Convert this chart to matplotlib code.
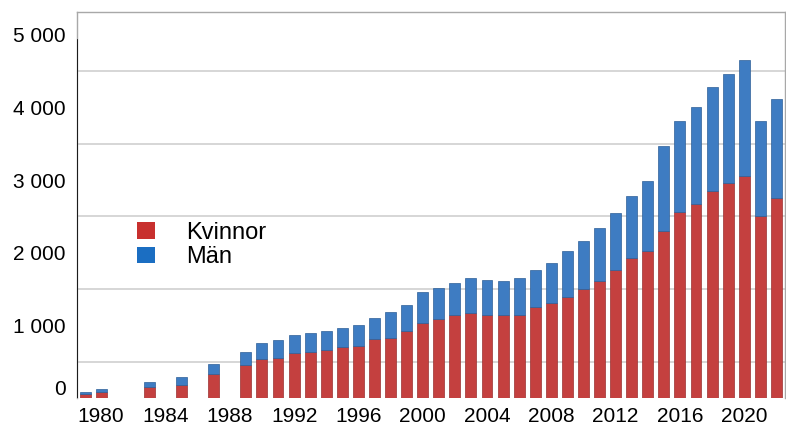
import numpy as np
import matplotlib
matplotlib.use("Agg")
import matplotlib.pyplot as plt
import matplotlib.transforms as mtransforms
from matplotlib.patches import Patch

plt.rcParams['font.family'] = ['Liberation Sans', 'DejaVu Sans']

# Data
years = [1979, 1980, 1983, 1985, 1987] + list(range(1989, 2023))
kvinnor = [55, 90, 160, 185, 330,
           460, 545, 560, 630, 645, 665, 705, 720, 815, 830, 930,
           1035, 1090, 1140, 1180, 1140, 1140, 1140, 1250, 1310, 1400,
           1505, 1615, 1765, 1925, 2030, 2300, 2555, 2670, 2850, 2955,
           3055, 2510, 2760]
man = [30, 40, 70, 105, 140,
       175, 222, 245, 238, 260, 267, 268, 290, 295, 355, 355,
       428, 425, 452, 480, 488, 480, 520, 518, 556, 630,
       660, 723, 780, 857, 955, 1168, 1250, 1338, 1433, 1503,
       1595, 1295, 1350]
tick_years = list(range(1980, 2021, 4))
y_ticks = [0, 1000, 2000, 3000, 4000, 5000]
y_labels = ["0", "1 000", "2 000", "3 000", "4 000", "5 000"]

red = "#C4403F"
blue = "#3E7CC2"

fig = plt.figure(figsize=(7.86, 4.25), dpi=100)
ax = fig.add_axes([0.098, 0.0624, 0.901, 0.9096])

ax.bar(years, kvinnor, width=0.68, color=red, edgecolor="#9A3030", linewidth=0.5, zorder=3)
ax.bar(years, man, bottom=kvinnor, width=0.68, color=blue, edgecolor="#2D5F98", linewidth=0.5, zorder=3)

ax.set_xlim(1978.5, 2022.55)
ax.set_ylim(0, 5310)

ax.set_yticks(np.arange(0, 5001, 500), minor=True)
ax.grid(axis="y", which="minor", color="#D6D6D6", linewidth=1.4, zorder=0)
ax.set_yticks(y_ticks)
ax.set_yticklabels(y_labels)
ax.set_xticks(tick_years)
ax.tick_params(axis="both", which="both", length=0, labelsize=15)
ax.tick_params(axis="y", pad=8)
ax.tick_params(axis="x", pad=6)

for side in ["top", "left", "right"]:
    ax.spines[side].set_color("#A8A8A8")
    ax.spines[side].set_linewidth(1)
ax.spines["bottom"].set_visible(False)
ax.axvline(1978.5, ymin=0, ymax=4930 / 5310, color="black", linewidth=1.2, zorder=4)

# the zero label sits a bit higher in the original
zero_lab = ax.yaxis.get_major_ticks()[0].label1
zero_lab.set_transform(zero_lab.get_transform() +
                       mtransforms.ScaledTranslation(0, 11 / 100, fig.dpi_scale_trans))

handles = [Patch(facecolor="#C8302E", edgecolor="none"),
           Patch(facecolor="#1B6EC2", edgecolor="none")]
fig.legend(handles, ["Kvinnor", "Män"], loc="upper left",
           bbox_to_anchor=(137 / 786, 1 - 222 / 425), frameon=False,
           fontsize=17, handlelength=0.75, handleheight=0.7,
           handletextpad=1.35, labelspacing=0.1, borderpad=0, borderaxespad=0)

fig.savefig("out.png", dpi=100)
